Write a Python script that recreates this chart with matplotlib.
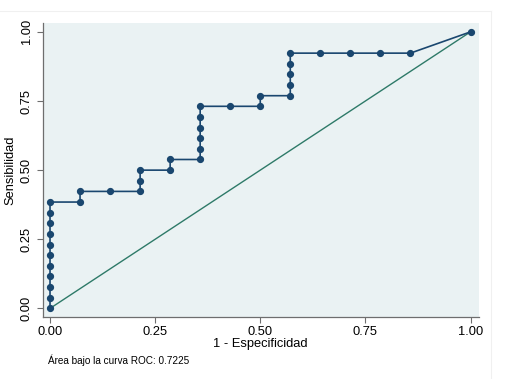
import matplotlib
matplotlib.use("Agg")
import matplotlib.pyplot as plt

plt.rcParams['font.family'] = ['Liberation Sans', 'DejaVu Sans']

# 1 - especificidad / sensibilidad en cada punto de corte
fpr = [0.0, 0.0, 0.0, 0.0, 0.0, 0.0, 0.0, 0.0, 0.0, 0.0, 0.0,
       0.0714, 0.0714, 0.1429, 0.2143, 0.2143, 0.2143, 0.2857, 0.2857,
       0.3571, 0.3571, 0.3571, 0.3571, 0.3571, 0.3571,
       0.4286, 0.5, 0.5, 0.5714, 0.5714, 0.5714, 0.5714, 0.5714,
       0.6429, 0.7143, 0.7857, 0.8571, 1.0]
tpr = [0.0, 0.0385, 0.0769, 0.1154, 0.1538, 0.1923, 0.2308, 0.2692, 0.3077, 0.3462, 0.3846,
       0.3846, 0.4231, 0.4231, 0.4231, 0.4615, 0.5, 0.5, 0.5385,
       0.5385, 0.5769, 0.6154, 0.6538, 0.6923, 0.7308,
       0.7308, 0.7308, 0.7692, 0.7692, 0.8077, 0.8462, 0.8846, 0.9231,
       0.9231, 0.9231, 0.9231, 0.9231, 1.0]
ticks = [0.0, 0.25, 0.5, 0.75, 1.0]
tick_labels = ["0.00", "0.25", "0.50", "0.75", "1.00"]
auc = 0.7225

fig = plt.figure(figsize=(5.11, 3.79), dpi=100)
fig.patch.set_facecolor('white')
W, H = 511, 379
ax = fig.add_axes([42.7 / W, 1 - 316.7 / H, (478.7 - 42.7) / W, (316.7 - 23.3) / H])
ax.set_facecolor('#eaf2f3')

navy = '#1a476f'
ax.plot([0, 1], [0, 1], color='#2e7a68', lw=1.0, zorder=2)
ax.plot(fpr, tpr, color=navy, lw=1.2, marker='o', ms=4.2, mfc=navy, mec=navy, zorder=3)

ax.set_xlim(-0.0174, 1.0195)
ax.set_ylim(-0.030, 1.031)
ax.set_xticks(ticks)
ax.set_xticklabels(tick_labels)
ax.set_yticks(ticks)
ax.set_yticklabels(tick_labels, rotation=90, va='center')

for s in ['top', 'right']:
    ax.spines[s].set_visible(False)
for s in ['left', 'bottom']:
    ax.spines[s].set_color('#6e6e6e')
    ax.spines[s].set_linewidth(0.9)
ax.tick_params(axis='both', direction='out', length=4, width=0.8, color='#6e6e6e',
               labelsize=9.3, labelcolor='black', pad=3)

ax.set_xlabel('1 - Especificidad', fontsize=9.3, labelpad=0)
ax.set_ylabel('Sensibilidad', fontsize=9.3, labelpad=3)

fig.text(48 / W, 1 - 360 / H, 'Área bajo la curva ROC: %.4f' % auc, fontsize=7.2,
         va='center', ha='left')

# marco tenue de la captura
fig.add_artist(plt.Line2D([0, 491 / W], [1 - 10.5 / H] * 2, color='#f0f0f0', lw=0.8))
fig.add_artist(plt.Line2D([491 / W] * 2, [0, 1 - 10.5 / H], color='#f0f0f0', lw=0.8))

fig.savefig('out.png', dpi=100)
